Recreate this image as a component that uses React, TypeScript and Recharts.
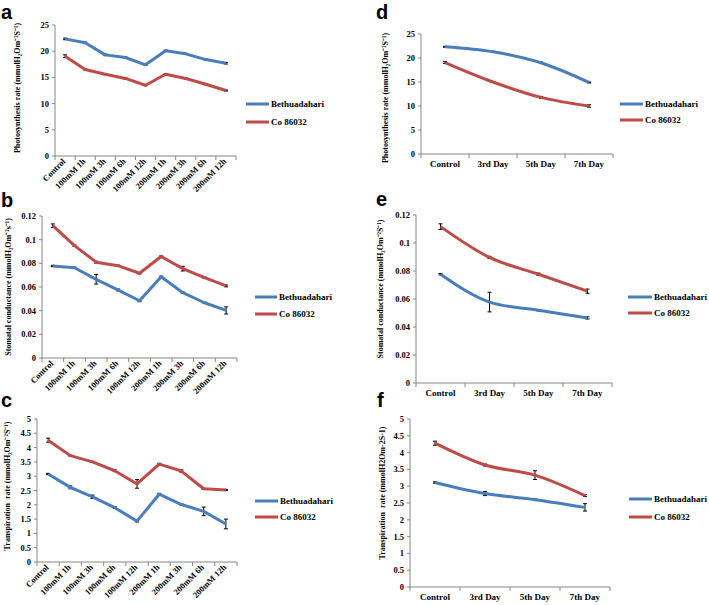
import React from "react";
import { LineChart, Line, XAxis, YAxis, ErrorBar } from "recharts";

const BLUE = "#4A7EBB";
const RED = "#BE4B48";
const AXIS = "#868686";
const FONT = '"Liberation Serif", "Times New Roman", serif';
const SANS = '"Liberation Sans", Arial, sans-serif';

// ---------- categories ----------
const catsTime = ["Control", "100mM 1h", "100mM 3h", "100mM 6h", "100mM 12h", "200mM 1h", "200mM 3h", "200mM 6h", "200mM 12h"];
const catsDay = ["Control", "3rd Day", "5th Day", "7th Day"];

// ---------- series names ----------
const seriesNames = ["Bethuadahari", "Co 86032"];

// ---------- panel a: photosynthesis (time) ----------
const photoTimeBlue = [22.35, 21.6, 19.3, 18.8, 17.4, 20.1, 19.5, 18.4, 17.7];
const photoTimeBlueErr = [0.15, 0.15, 0.15, 0.1, 0.1, 0.1, 0.1, 0.1, 0.15];
const photoTimeRed = [19.05, 16.5, 15.6, 14.8, 13.5, 15.6, 14.8, 13.7, 12.5];
const photoTimeRedErr = [0.25, 0.1, 0.1, 0.1, 0.1, 0.1, 0.1, 0.1, 0.1];

// ---------- panel b: stomatal conductance (time) ----------
const condTimeBlue = [0.0778, 0.0763, 0.0665, 0.0575, 0.0484, 0.0687, 0.0552, 0.0467, 0.0402];
const condTimeBlueErr = [0.0005, 0.0005, 0.004, 0.0008, 0.0008, 0.0005, 0.0005, 0.0005, 0.003];
const condTimeRed = [0.1118, 0.095, 0.081, 0.078, 0.0716, 0.0858, 0.0755, 0.0679, 0.0609];
const condTimeRedErr = [0.0015, 0.0005, 0.0008, 0.0005, 0.0005, 0.0005, 0.002, 0.0005, 0.0008];

// ---------- panel c: transpiration (time) ----------
const transTimeBlue = [3.08, 2.61, 2.28, 1.9, 1.43, 2.37, 2.01, 1.77, 1.33];
const transTimeBlueErr = [0.02, 0.05, 0.06, 0.03, 0.03, 0.03, 0.02, 0.15, 0.17];
const transTimeRed = [4.26, 3.72, 3.5, 3.19, 2.73, 3.42, 3.18, 2.56, 2.52];
const transTimeRedErr = [0.07, 0.02, 0.02, 0.03, 0.15, 0.03, 0.04, 0.02, 0.02];

// ---------- panel d: photosynthesis (days) ----------
const photoDayBlue = [22.35, 21.3, 19.0, 14.9];
const photoDayBlueErr = [0.1, 0.1, 0.15, 0.1];
const photoDayRed = [19.05, 15.0, 11.8, 10.0];
const photoDayRedErr = [0.2, 0.1, 0.2, 0.25];

// ---------- panel e: stomatal conductance (days) ----------
const condDayBlue = [0.0777, 0.0578, 0.052, 0.0465];
const condDayBlueErr = [0.0005, 0.007, 0.0005, 0.0008];
const condDayRed = [0.1117, 0.0897, 0.0777, 0.0656];
const condDayRedErr = [0.002, 0.0008, 0.0008, 0.0015];

// ---------- panel f: transpiration (days) ----------
const transDayBlue = [3.11, 2.78, 2.6, 2.37];
const transDayBlueErr = [0.02, 0.06, 0.02, 0.11];
const transDayRed = [4.28, 3.63, 3.33, 2.72];
const transDayRedErr = [0.06, 0.03, 0.13, 0.03];

// ---------- axis ticks ----------
const photoTicks = [0, 5, 10, 15, 20, 25];
const condTicks = [0, 0.02, 0.04, 0.06, 0.08, 0.1, 0.12];
const transTicks = [0, 0.5, 1, 1.5, 2, 2.5, 3, 3.5, 4, 4.5, 5];

const labelPhoto = "Photosynthesis rate (mmolH\u2082Om\u207B\u00B2S\u207B\u00B9)";
const labelCondB = "Stomatal conductance (mmolH\u2082Om\u207B\u00B2s\u207B\u00B9)";
const labelCondE = "Stomatal conductance (mmolH\u2082Om\u207B\u00B2S\u207B\u00B9)";
const labelTransC = "Transpiration  rate (mmolH\u2082Om\u207B\u00B2S\u207B\u00B9)";
const labelTransF = "Transpiration  rate (mmolH2Om-2S-1)";

type PanelCfg = {
  letter: string;
  letterX: number;
  letterY: number;
  col: number;
  L: number;
  T: number;
  R: number;
  B: number;
  cats: string[];
  blue: number[];
  blueErr: number[];
  red: number[];
  redErr: number[];
  yMax: number;
  yTicks: number[];
  yLabel: string;
  labelX: number;
  labelY: number;
  rotated: boolean;
  smooth: boolean;
  legX: number;
  legW: number;
  legY1: number;
  legY2: number;
};

const panels: PanelCfg[] = [
  { letter: "a", letterX: 1, letterY: 19, col: 0, L: 55, T: 25, R: 236, B: 156, cats: catsTime, blue: photoTimeBlue, blueErr: photoTimeBlueErr, red: photoTimeRed, redErr: photoTimeRedErr, yMax: 25, yTicks: photoTicks, yLabel: labelPhoto, labelX: 17, labelY: 88, rotated: true, smooth: false, legX: 246, legW: 23, legY1: 104, legY2: 122 },
  { letter: "b", letterX: 1, letterY: 207, col: 0, L: 42, T: 216, R: 237, B: 358, cats: catsTime, blue: condTimeBlue, blueErr: condTimeBlueErr, red: condTimeRed, redErr: condTimeRedErr, yMax: 0.12, yTicks: condTicks, yLabel: labelCondB, labelX: 8, labelY: 287, rotated: true, smooth: false, legX: 255, legW: 22, legY1: 297, legY2: 314 },
  { letter: "c", letterX: 1, letterY: 407, col: 0, L: 37, T: 419, R: 237, B: 562, cats: catsTime, blue: transTimeBlue, blueErr: transTimeBlueErr, red: transTimeRed, redErr: transTimeRedErr, yMax: 5, yTicks: transTicks, yLabel: labelTransC, labelX: 7, labelY: 486, rotated: true, smooth: false, legX: 255, legW: 23, legY1: 501, legY2: 517 },
  { letter: "d", letterX: 376, letterY: 19, col: 350, L: 421, T: 34, R: 613, B: 154, cats: catsDay, blue: photoDayBlue, blueErr: photoDayBlueErr, red: photoDayRed, redErr: photoDayRedErr, yMax: 25, yTicks: photoTicks, yLabel: labelPhoto, labelX: 385, labelY: 98, rotated: false, smooth: true, legX: 620, legW: 23, legY1: 104, legY2: 120 },
  { letter: "e", letterX: 376, letterY: 206, col: 350, L: 416, T: 215, R: 612, B: 383, cats: catsDay, blue: condDayBlue, blueErr: condDayBlueErr, red: condDayRed, redErr: condDayRedErr, yMax: 0.12, yTicks: condTicks, yLabel: labelCondE, labelX: 380, labelY: 289, rotated: false, smooth: true, legX: 628, legW: 24, legY1: 297, legY2: 313 },
  { letter: "f", letterX: 377, letterY: 407, col: 350, L: 410, T: 419, R: 610, B: 587, cats: catsDay, blue: transDayBlue, blueErr: transDayBlueErr, red: transDayRed, redErr: transDayRedErr, yMax: 5, yTicks: transTicks, yLabel: labelTransF, labelX: 382, labelY: 493, rotated: false, smooth: true, legX: 629, legW: 23, legY1: 499, legY2: 517 },
];

const YAW = 30;

const XTick = (props: any) => {
  const { x, y, payload, cats, rotated } = props;
  const v = payload.value;
  if (Math.abs(v - Math.round(v)) < 1e-6) {
    return <line x1={x} x2={x} y1={y} y2={y + 4} stroke={AXIS} strokeWidth={1} />;
  }
  const label = cats[Math.floor(v)];
  if (rotated) {
    const ty = y + 6;
    const tx = x + 1;
    return (
      <text x={tx} y={ty} textAnchor="end" transform={`rotate(-45 ${tx} ${ty})`} fontSize={8.5} fontWeight={700} fontFamily={FONT} fill="#000">
        {label}
      </text>
    );
  }
  return (
    <text x={x} y={y + 13} textAnchor="middle" fontSize={9} fontWeight={700} fontFamily={FONT} fill="#000">
      {label}
    </text>
  );
};

const YLabel = (props: any) => {
  const { lx, ly, text } = props;
  return (
    <text x={lx} y={ly} transform={`rotate(-90 ${lx} ${ly})`} textAnchor="middle" dominantBaseline="central" fontSize={8} fontWeight={700} fontFamily={FONT} fill="#000" style={{ whiteSpace: "pre" }}>
      {text}
    </text>
  );
};

function Panel({ p }: { p: PanelCfg }) {
  const n = p.cats.length;
  const rows = p.cats.map((c, i) => ({
    name: c,
    x: i + 0.5,
    blue: p.blue[i],
    red: p.red[i],
    blueErr: p.blueErr[i],
    redErr: p.redErr[i],
  }));
  const xTicks = Array.from({ length: 2 * n + 1 }, (_, k) => k / 2);
  const xh = p.rotated ? 45 : 22;
  const chartLeft = p.col;
  const chartTop = p.T - 10;
  const width = p.R + 6 - chartLeft;
  const height = p.B + xh - chartTop;
  const marginLeft = p.L - YAW - chartLeft;
  return (
    <div style={{ position: "absolute", left: chartLeft, top: chartTop }}>
      <LineChart width={width} height={height} data={rows} margin={{ top: 10, right: 6, left: marginLeft, bottom: 0 }}>
        <XAxis
          type="number"
          dataKey="x"
          domain={[0, n]}
          ticks={xTicks}
          interval={0}
          tickSize={0}
          tickMargin={0}
          tickLine={false}
          stroke={AXIS}
          height={xh}
          tick={<XTick cats={p.cats} rotated={p.rotated} />}
        />
        <YAxis
          type="number"
          domain={[0, p.yMax]}
          ticks={p.yTicks}
          interval={0}
          width={YAW}
          tickSize={3}
          tickMargin={3}
          stroke={AXIS}
          tick={{ fill: "#000", fontSize: 8.5, fontWeight: 700, fontFamily: FONT }}
          label={<YLabel lx={p.labelX - chartLeft} ly={p.labelY - chartTop} text={p.yLabel} />}
        />
        <Line type={p.smooth ? "monotone" : "linear"} dataKey="blue" name={seriesNames[0]} stroke={BLUE} strokeWidth={3} strokeLinejoin="round" dot={false} isAnimationActive={false}>
          <ErrorBar dataKey="blueErr" direction="y" width={2} stroke="#000" strokeWidth={1} />
        </Line>
        <Line type={p.smooth ? "monotone" : "linear"} dataKey="red" name={seriesNames[1]} stroke={RED} strokeWidth={3} strokeLinejoin="round" dot={false} isAnimationActive={false}>
          <ErrorBar dataKey="redErr" direction="y" width={2} stroke="#000" strokeWidth={1} />
        </Line>
      </LineChart>
    </div>
  );
}

export default function App() {
  return (
    <div style={{ position: "fixed", left: 0, top: 0, width: 709, height: 605, background: "#fff", overflow: "hidden" }}>
      {panels.map((p) => (
        <Panel key={p.letter} p={p} />
      ))}
      <svg width={709} height={605} style={{ position: "absolute", left: 0, top: 0, pointerEvents: "none" }}>
        {panels.map((p) => (
          <g key={p.letter}>
            <text x={p.letterX} y={p.letterY} fontSize={20} fontWeight={700} fontFamily={SANS} fill="#000">
              {p.letter}
            </text>
            <line x1={p.legX} x2={p.legX + p.legW} y1={p.legY1} y2={p.legY1} stroke={BLUE} strokeWidth={3} />
            <text x={p.legX + p.legW + 2} y={p.legY1 + 3} fontSize={9} fontWeight={700} fontFamily={FONT} fill="#000">
              {seriesNames[0]}
            </text>
            <line x1={p.legX} x2={p.legX + p.legW} y1={p.legY2} y2={p.legY2} stroke={RED} strokeWidth={3} />
            <text x={p.legX + p.legW + 2} y={p.legY2 + 3} fontSize={9} fontWeight={700} fontFamily={FONT} fill="#000">
              {seriesNames[1]}
            </text>
          </g>
        ))}
      </svg>
    </div>
  );
}
